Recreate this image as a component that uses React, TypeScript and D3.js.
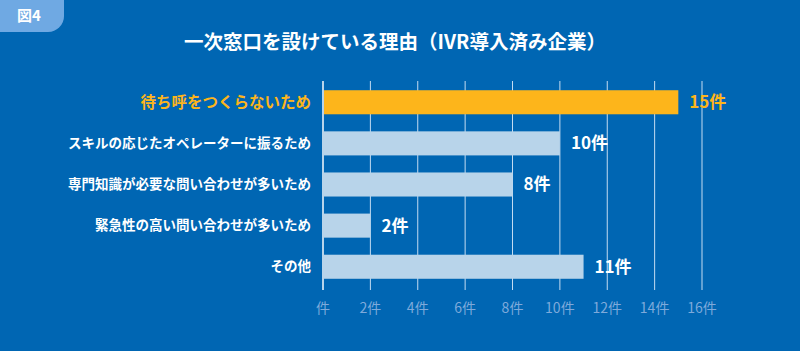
import { useRef, useEffect } from 'react';
import * as d3 from 'd3';

const categories = [
  '待ち呼をつくらないため',
  'スキルの応じたオペレーターに振るため',
  '専門知識が必要な問い合わせが多いため',
  '緊急性の高い問い合わせが多いため',
  'その他',
];
const values = [15, 10, 8, 2, 11];
const ticks = [0, 2, 4, 6, 8, 10, 12, 14, 16];

const W = 800;
const H = 351;
const FONT = '"Noto Sans CJK JP", "Noto Sans", sans-serif';

export default function App() {
  const svgRef = useRef<SVGSVGElement>(null);

  useEffect(() => {
    const svg = d3.select(svgRef.current);
    svg.selectAll('*').remove();

    svg.append('rect').attr('width', W).attr('height', H).attr('fill', '#0066b3');

    // badge
    svg.append('path')
      .attr('d', 'M0,0 H64 V16 A16,16 0 0 1 48,32 H0 Z')
      .attr('fill', '#6fa9e3');
    svg.append('text')
      .attr('x', 29).attr('y', 16).attr('dy', '0.35em')
      .attr('text-anchor', 'middle')
      .attr('fill', '#fff').attr('font-size', 15).attr('font-weight', 700)
      .attr('font-family', FONT)
      .text('図4');

    svg.append('text')
      .attr('x', 395).attr('y', 42).attr('dy', '0.35em')
      .attr('text-anchor', 'middle')
      .attr('fill', '#fff').attr('font-size', 19.5).attr('font-weight', 700)
      .attr('font-family', FONT)
      .text('一次窓口を設けている理由（IVR導入済み企業）');

    const x = d3.scaleLinear().domain([0, 16]).range([323, 702]);
    const y = d3.scaleBand<string>().domain(categories).range([82, 287]).paddingInner(0.415).paddingOuter(0.2);

    // grid
    svg.append('g')
      .selectAll('line')
      .data(ticks.slice(1))
      .join('line')
      .attr('x1', (d) => x(d)).attr('x2', (d) => x(d))
      .attr('y1', 81).attr('y2', 290)
      .attr('stroke', '#c4dcf2').attr('stroke-width', 1);

    // tick labels
    svg.append('g')
      .selectAll('text')
      .data(ticks)
      .join('text')
      .attr('x', (d) => x(d)).attr('y', 308).attr('dy', '0.35em')
      .attr('text-anchor', 'middle')
      .attr('fill', '#7eaadb').attr('font-size', 14)
      .attr('font-family', FONT)
      .text((d) => (d === 0 ? '件' : `${d}件`));

    // bars
    svg.append('g')
      .selectAll('rect')
      .data(values)
      .join('rect')
      .attr('x', x(0))
      .attr('y', (_, i) => y(categories[i])!)
      .attr('width', (d) => x(d) - x(0))
      .attr('height', y.bandwidth())
      .attr('fill', (_, i) => (i === 0 ? '#fdb51b' : '#b8d4ea'));

    // axis line
    svg.append('line')
      .attr('x1', x(0)).attr('x2', x(0))
      .attr('y1', 81).attr('y2', 290)
      .attr('stroke', '#b8d4ea').attr('stroke-width', 2);

    // category labels
    svg.append('g')
      .selectAll('text')
      .data(categories)
      .join('text')
      .attr('x', 311)
      .attr('y', (d) => y(d)! + y.bandwidth() / 2).attr('dy', '0.35em')
      .attr('text-anchor', 'end')
      .attr('fill', (_, i) => (i === 0 ? '#fdb51b' : '#fff'))
      .attr('font-size', (_, i) => (i === 0 ? 15.5 : 13.5))
      .attr('font-weight', 700)
      .attr('font-family', FONT)
      .text((d) => d);

    // value labels
    svg.append('g')
      .selectAll('text')
      .data(values)
      .join('text')
      .attr('x', (d) => x(d) + 11)
      .attr('y', (_, i) => y(categories[i])! + y.bandwidth() / 2).attr('dy', '0.35em')
      .attr('fill', (_, i) => (i === 0 ? '#fdb51b' : '#fff'))
      .attr('font-size', 17)
      .attr('font-weight', 700)
      .attr('font-family', FONT)
      .text((d) => `${d}件`);
  }, []);

  return (
    <svg ref={svgRef} width={W} height={H} style={{ position: 'absolute', left: 0, top: 0 }} />
  );
}
